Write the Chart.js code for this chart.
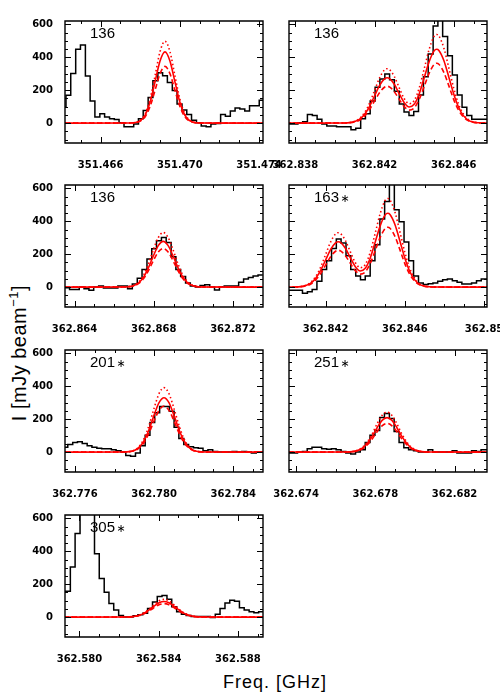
<!DOCTYPE html>
<html>
<head>
<meta charset="utf-8">
<script src="https://cdn.jsdelivr.net/npm/chart.js@4.4.1/dist/chart.umd.min.js"></script>
<style>
html, body { margin: 0; padding: 0; background: #fff; width: 500px; height: 700px; overflow: hidden; }
#wrap { position: relative; width: 500px; height: 700px; }
#wrap canvas { position: absolute; }
#ytitle { position: absolute; left: 19.5px; top: 353px; transform: translate(-50%, -50%) rotate(-90deg);
  font: 20px "Liberation Sans", Arial, sans-serif; line-height: 20px; letter-spacing: 0.5px; white-space: nowrap; color: #000; }
#ytitle sup { font-size: 13px; vertical-align: baseline; position: relative; top: -8px; }
#xtitle { position: absolute; left: 275px; top: 673px; transform: translateX(-50%);
  font: 18px "Liberation Sans", Arial, sans-serif; line-height: 18px; letter-spacing: 1px; white-space: nowrap; color: #000; }
</style>
</head>
<body>
<div id="wrap">
  <div id="ytitle">I [mJy beam<sup>−1</sup>]</div>
  <div id="xtitle">Freq. [GHz]</div>
</div>
<script>
// ---------------- DATA ----------------
const yTickValues = [0, 200, 400, 600];
const yTickLabels = ['0', '200', '400', '600'];
const panelLabels = ['136', '136', '136', '163\u2217', '201\u2217', '251\u2217', '305\u2217'];

// Panel 1 : 351.46 GHz, label 136
const p1XRange = [351.4642, 351.4742];
const p1XTicks = [351.466, 351.470, 351.474];
const p1XTickLabels = ['351.466', '351.470', '351.474'];
const p1Freq = [351.46401, 351.46425, 351.46449, 351.46474, 351.46498, 351.46523, 351.46547, 351.46571, 351.46596, 351.46620, 351.46645, 351.46669, 351.46693, 351.46718, 351.46742, 351.46767, 351.46791, 351.46815, 351.46840, 351.46864, 351.46889, 351.46913, 351.46937, 351.46962, 351.46986, 351.47011, 351.47035, 351.47059, 351.47084, 351.47108, 351.47133, 351.47157, 351.47181, 351.47206, 351.47230, 351.47255, 351.47279, 351.47303, 351.47328, 351.47352, 351.47377, 351.47401, 351.47425];
const p1Flux = [96, 169, 302, 449, 475, 286, 135, 37, 57, 37, 27, 22, 2, -22, -22, -6, 27, 76, 155, 257, 306, 288, 247, 198, 116, 80, 53, 18, 2, -18, -22, -6, -2, 53, 41, 73, 92, 86, 73, 106, 106, 139, 139];
const p1FitFreq = [351.4642, 351.4675, 351.46775, 351.468, 351.46825, 351.4685, 351.46875, 351.469, 351.46925, 351.4695, 351.46975, 351.47, 351.47025, 351.4705, 351.47075, 351.471, 351.4742];
const p1FitSolid = [0, 0.6, 3.3, 15, 49, 128, 252, 378, 433, 378, 252, 128, 49, 15, 3.3, 0.6, 0];
const p1FitDotted = [0, 0.6, 3.8, 17, 57, 147, 289, 435, 498, 435, 289, 147, 57, 17, 3.8, 0.6, 0];
const p1FitDashed = [0, 0.4, 2.6, 12, 39, 102, 200, 301, 345, 301, 200, 102, 39, 12, 2.6, 0.4, 0];

// Panel 2 : 362.84 GHz, label 136
const p2XRange = [362.83768, 362.84768];
const p2XTicks = [362.838, 362.842, 362.846];
const p2XTickLabels = ['362.838', '362.842', '362.846'];
const p2Freq = [362.83764, 362.83788, 362.83813, 362.83837, 362.83861, 362.83886, 362.83910, 362.83934, 362.83959, 362.83983, 362.84008, 362.84032, 362.84056, 362.84081, 362.84105, 362.84130, 362.84154, 362.84178, 362.84203, 362.84227, 362.84252, 362.84276, 362.84300, 362.84325, 362.84349, 362.84374, 362.84398, 362.84422, 362.84447, 362.84471, 362.84496, 362.84520, 362.84544, 362.84569, 362.84593, 362.84618, 362.84642, 362.84666, 362.84691, 362.84715, 362.84740, 362.84764, 362.84788];
const p2Flux = [-6, -6, 2, 8, 53, 47, 24, -6, -18, -18, -22, -22, -22, -41, -31, 27, 57, 135, 218, 269, 298, 263, 194, 116, 67, 47, 71, 171, 282, 420, 590, 700, 527, 410, 292, 171, 96, 47, 24, 24, 24, 24, 24];

// Two-component fit shared by panels 2 and 4
const twoLineFitFreq = [362.8375, 362.8405, 362.84075, 362.841, 362.84125, 362.8415, 362.84175, 362.842, 362.84225, 362.8425, 362.84264, 362.84275, 362.843, 362.84325, 362.8435, 362.84375, 362.844, 362.84425, 362.8445, 362.84475, 362.845, 362.84514, 362.84525, 362.8455, 362.84575, 362.846, 362.84625, 362.8465, 362.84675, 362.847, 362.84725, 362.8475, 362.8505];
const twoLineFitSolid = [0, 0.9, 3.0, 9.4, 24, 54, 102, 165, 228, 269, 276, 272, 236, 178, 124, 98, 114, 176, 272, 371, 438, 449, 442, 381, 281, 177, 95, 44, 17, 5.7, 1.7, 0.4, 0];
const twoLineFitDotted = [0, 1.1, 3.6, 11, 29, 65, 122, 198, 274, 323, 331, 326, 283, 214, 149, 118, 137, 211, 326, 445, 526, 539, 530, 457, 337, 212, 114, 53, 20, 7, 2, 0.5, 0];
const twoLineFitDashed = [0, 0.7, 2.4, 7.6, 19, 44, 83, 134, 185, 218, 224, 220, 191, 144, 100, 79, 92, 143, 220, 301, 355, 364, 358, 309, 228, 143, 77, 36, 14, 4.6, 1.4, 0.3, 0];

// Panel 3 : 362.868 GHz, label 136
const p3XRange = [362.86352, 362.87352];
const p3XTicks = [362.864, 362.868, 362.872];
const p3XTickLabels = ['362.864', '362.868', '362.872'];
const p3Freq = [362.86351, 362.86375, 362.86400, 362.86424, 362.86448, 362.86473, 362.86497, 362.86522, 362.86546, 362.86570, 362.86595, 362.86619, 362.86644, 362.86668, 362.86692, 362.86717, 362.86741, 362.86766, 362.86790, 362.86814, 362.86839, 362.86863, 362.86888, 362.86912, 362.86936, 362.86961, 362.86985, 362.87010, 362.87034, 362.87058, 362.87083, 362.87107, 362.87132, 362.87156, 362.87180, 362.87205, 362.87229, 362.87254, 362.87278, 362.87302, 362.87327, 362.87351];
const p3Flux = [-4, -14, -14, 0, -10, -19, 0, 6, -6, -6, -6, 6, 6, -10, 19, 54, 107, 171, 233, 282, 301, 272, 184, 107, 64, 25, 6, 0, 10, 14, 0, -17, 2, 6, 6, 6, 29, 50, 58, 68, 74, 74];
const p3FitFreq = [362.8635, 362.86648, 362.86673, 362.86698, 362.86723, 362.86748, 362.86773, 362.86798, 362.86823, 362.86848, 362.86873, 362.86898, 362.86923, 362.86948, 362.86973, 362.86998, 362.87023, 362.87048, 362.8736];
const p3FitSolid = [0, 0.6, 2.5, 8.6, 25, 59, 117, 189, 252, 278, 252, 189, 117, 59, 25, 8.6, 2.5, 0.6, 0];
const p3FitDotted = [0, 0.7, 3, 10, 30, 71, 140, 226, 301, 332, 301, 226, 140, 71, 30, 10, 3, 0.7, 0];
const p3FitDashed = [0, 0.5, 2.1, 7.3, 21, 50, 99, 160, 213, 235, 213, 160, 99, 50, 21, 7.3, 2.1, 0.5, 0];

// Panel 4 : 362.84 GHz, label 163*
const p4XRange = [362.84015, 362.85015];
const p4XTicks = [362.842, 362.846, 362.850];
const p4XTickLabels = ['362.842', '362.846', '362.85'];
const p4Freq = [362.84010, 362.84034, 362.84059, 362.84083, 362.84108, 362.84132, 362.84156, 362.84181, 362.84205, 362.84230, 362.84254, 362.84278, 362.84303, 362.84327, 362.84352, 362.84376, 362.84400, 362.84425, 362.84449, 362.84474, 362.84498, 362.84522, 362.84547, 362.84571, 362.84596, 362.84620, 362.84644, 362.84669, 362.84693, 362.84718, 362.84742, 362.84766, 362.84791, 362.84815, 362.84840, 362.84864, 362.84888, 362.84913, 362.84937, 362.84962, 362.84986, 362.85010, 362.85035];
const p4Flux = [-19, -19, -19, -37, -29, -14, 35, 107, 161, 235, 293, 268, 190, 107, 68, 45, 68, 161, 258, 414, 520, 680, 470, 398, 274, 161, 68, 25, 16, 21, 25, 35, 45, 50, 39, 29, 19, 19, 25, 39, 50, 50, 50];

// Panel 5 : 362.780 GHz, label 201*
const p5XRange = [362.7755, 362.7855];
const p5XTicks = [362.776, 362.780, 362.784];
const p5XTickLabels = ['362.776', '362.780', '362.784'];
const p5Freq = [362.77540, 362.77564, 362.77589, 362.77613, 362.77637, 362.77662, 362.77686, 362.77711, 362.77735, 362.77759, 362.77784, 362.77808, 362.77833, 362.77857, 362.77881, 362.77906, 362.77930, 362.77955, 362.77979, 362.78003, 362.78028, 362.78052, 362.78077, 362.78101, 362.78125, 362.78150, 362.78174, 362.78199, 362.78223, 362.78247, 362.78272, 362.78296, 362.78321, 362.78345, 362.78369, 362.78394, 362.78418, 362.78443, 362.78467, 362.78491, 362.78516, 362.78540, 362.78565];
const p5Flux = [29, 47, 59, 63, 53, 39, 29, 24, 20, 20, 14, 8, 0, -20, -25, -6, 39, 102, 180, 239, 278, 278, 249, 151, 82, 47, 33, 27, 24, 8, 14, 4, 0, 0, 0, 4, 0, 4, 0, -6, 0, 0, 0];
const p5FitFreq = [362.7755, 362.7785, 362.77875, 362.779, 362.77925, 362.7795, 362.77975, 362.78, 362.78025, 362.7805, 362.78075, 362.781, 362.78125, 362.7815, 362.78175, 362.782, 362.78225, 362.7825, 362.7855];
const p5FitSolid = [0, 0.7, 3, 10, 30, 71, 139, 225, 301, 331, 301, 225, 139, 71, 30, 10, 3, 0.7, 0];
const p5FitDotted = [0, 0.8, 3.5, 12, 35, 84, 165, 267, 356, 392, 356, 267, 165, 84, 35, 12, 3.5, 0.8, 0];
const p5FitDashed = [0, 0.6, 2.5, 8.7, 25, 60, 118, 191, 254, 280, 254, 191, 118, 60, 25, 8.7, 2.5, 0.6, 0];

// Panel 6 : 362.678 GHz, label 251*
const p6XRange = [362.67364, 362.68364];
const p6XTicks = [362.674, 362.678, 362.682];
const p6XTickLabels = ['362.674', '362.678', '362.682'];
const p6Freq = [362.67358, 362.67383, 362.67407, 362.67432, 362.67456, 362.67480, 362.67505, 362.67529, 362.67554, 362.67578, 362.67602, 362.67627, 362.67651, 362.67676, 362.67700, 362.67724, 362.67749, 362.67773, 362.67798, 362.67822, 362.67846, 362.67871, 362.67895, 362.67920, 362.67944, 362.67968, 362.67993, 362.68017, 362.68042, 362.68066, 362.68090, 362.68115, 362.68139, 362.68164, 362.68188, 362.68212, 362.68237, 362.68261, 362.68286, 362.68310, 362.68334, 362.68359, 362.68383];
const p6Flux = [-6, -6, 0, 4, 20, 29, 29, 20, 18, 20, 14, 4, -6, -12, 0, 14, 59, 102, 131, 210, 235, 204, 126, 59, 27, 14, 8, 0, 0, 14, 0, 0, 0, 0, 8, -6, -6, -6, 8, 4, 14, 14, 14];
const p6FitFreq = [362.6736, 362.67659, 362.67684, 362.67709, 362.67734, 362.67759, 362.67784, 362.67809, 362.67834, 362.67859, 362.67884, 362.67909, 362.67934, 362.67959, 362.67984, 362.68009, 362.68034, 362.68059, 362.6837];
const p6FitSolid = [0, 0.8, 3, 9, 24, 53, 96, 148, 193, 210, 193, 148, 96, 53, 24, 9, 3, 0.8, 0];
const p6FitDotted = [0, 1, 3.4, 11, 28, 61, 111, 172, 223, 243, 223, 172, 111, 61, 28, 11, 3.4, 1, 0];
const p6FitDashed = [0, 0.7, 2.5, 7.7, 20, 44, 80, 124, 160, 175, 160, 124, 80, 44, 20, 7.7, 2.5, 0.7, 0];

// Panel 7 : 362.584 GHz, label 305*
const p7XRange = [362.57927, 362.58927];
const p7XTicks = [362.580, 362.584, 362.588];
const p7XTickLabels = ['362.580', '362.584', '362.588'];
const p7Freq = [362.57905, 362.57929, 362.57954, 362.57978, 362.58003, 362.58027, 362.58051, 362.58076, 362.58100, 362.58125, 362.58149, 362.58173, 362.58198, 362.58222, 362.58247, 362.58271, 362.58295, 362.58320, 362.58344, 362.58369, 362.58393, 362.58417, 362.58442, 362.58466, 362.58491, 362.58515, 362.58539, 362.58564, 362.58588, 362.58613, 362.58637, 362.58661, 362.58686, 362.58710, 362.58735, 362.58759, 362.58783, 362.58808, 362.58832, 362.58857, 362.58881, 362.58905, 362.58930];
const p7Flux = [157, 157, 304, 508, 700, 750, 660, 386, 235, 151, 82, 43, 10, 0, 0, 8, 14, 24, 53, 92, 125, 131, 108, 63, 33, 18, 10, 4, 4, 4, 4, -2, 18, 53, 86, 102, 96, 57, 43, 33, 27, 33, 33];
const p7FitFreq = [362.5792, 362.58227, 362.58252, 362.58277, 362.58302, 362.58327, 362.58352, 362.58377, 362.58402, 362.58427, 362.58452, 362.58477, 362.58502, 362.58527, 362.58552, 362.58577, 362.58602, 362.58627, 362.5893];
const p7FitSolid = [0, 0.4, 1.3, 4.2, 11, 24, 43.5, 67, 87, 95, 87, 67, 43.5, 24, 11, 4.2, 1.3, 0.4, 0];
const p7FitDotted = [0, 0.4, 1.5, 4.8, 12.4, 27, 49, 76, 99, 108, 99, 76, 49, 27, 12.4, 4.8, 1.5, 0.4, 0];
const p7FitDashed = [0, 0.3, 1.1, 3.6, 9.4, 20.5, 37.6, 58, 75, 82, 75, 58, 37.6, 20.5, 9.4, 3.6, 1.1, 0.3, 0];

// ---------------- LAYOUT ----------------
const Y_RANGE = [-121, 621];
const COL_LEFT = [65, 289];
const ROW_TOP = [21, 185, 350, 515];
const PLOT_W = 198, PLOT_H = 122;
const PAD_L = 60, PAD_T = 12, PAD_R = 45, PAD_B = 36;

const zip = (xs, ys) => xs.map((x, i) => ({ x: x, y: ys[i] }));

const panelDefs = [
  { col: 0, row: 0, range: p1XRange, ticks: p1XTicks, tickLabels: p1XTickLabels, freq: p1Freq, flux: p1Flux, fitF: p1FitFreq, solid: p1FitSolid, dotted: p1FitDotted, dashed: p1FitDashed, label: panelLabels[0] },
  { col: 1, row: 0, range: p2XRange, ticks: p2XTicks, tickLabels: p2XTickLabels, freq: p2Freq, flux: p2Flux, fitF: twoLineFitFreq, solid: twoLineFitSolid, dotted: twoLineFitDotted, dashed: twoLineFitDashed, label: panelLabels[1] },
  { col: 0, row: 1, range: p3XRange, ticks: p3XTicks, tickLabels: p3XTickLabels, freq: p3Freq, flux: p3Flux, fitF: p3FitFreq, solid: p3FitSolid, dotted: p3FitDotted, dashed: p3FitDashed, label: panelLabels[2] },
  { col: 1, row: 1, range: p4XRange, ticks: p4XTicks, tickLabels: p4XTickLabels, freq: p4Freq, flux: p4Flux, fitF: twoLineFitFreq, solid: twoLineFitSolid, dotted: twoLineFitDotted, dashed: twoLineFitDashed, label: panelLabels[3] },
  { col: 0, row: 2, range: p5XRange, ticks: p5XTicks, tickLabels: p5XTickLabels, freq: p5Freq, flux: p5Flux, fitF: p5FitFreq, solid: p5FitSolid, dotted: p5FitDotted, dashed: p5FitDashed, label: panelLabels[4] },
  { col: 1, row: 2, range: p6XRange, ticks: p6XTicks, tickLabels: p6XTickLabels, freq: p6Freq, flux: p6Flux, fitF: p6FitFreq, solid: p6FitSolid, dotted: p6FitDotted, dashed: p6FitDashed, label: panelLabels[5] },
  { col: 0, row: 3, range: p7XRange, ticks: p7XTicks, tickLabels: p7XTickLabels, freq: p7Freq, flux: p7Flux, fitF: p7FitFreq, solid: p7FitSolid, dotted: p7FitDotted, dashed: p7FitDashed, label: panelLabels[6] }
];

const framePlugin = {
  id: 'frame',
  afterDatasetsDraw(chart, args, opts) {
    const ctx = chart.ctx, a = chart.chartArea, xs = chart.scales.x, ys = chart.scales.y;
    ctx.save();
    ctx.strokeStyle = '#000';
    ctx.lineWidth = 1.4;
    ctx.beginPath();
    ctx.rect(a.left, a.top, a.right - a.left, a.bottom - a.top);
    ctx.stroke();
    ctx.lineWidth = 1;
    ctx.beginPath();
    const seg = (x1, y1, x2, y2) => { ctx.moveTo(x1, y1); ctx.lineTo(x2, y2); };
    const xt = xs.ticks.map(t => t.value);
    const xStep = xt[1] - xt[0], xMinor = xStep / 4;
    for (let i = -40; i <= 40; i++) {
      const v = xt[0] + i * xMinor;
      if (v < xs.min - 1e-9 || v > xs.max + 1e-9) continue;
      const p = Math.round(xs.getPixelForValue(v)) + 0.5;
      const len = (i % 4 === 0) ? 6 : 3;
      seg(p, a.bottom, p, a.bottom - len);
      seg(p, a.top, p, a.top + len);
    }
    for (let i = -8; i <= 16; i++) {
      const v = i * 50;
      if (v < ys.min || v > ys.max) continue;
      const p = Math.round(ys.getPixelForValue(v)) + 0.5;
      const len = (i % 4 === 0) ? 6 : 3;
      seg(a.left, p, a.left + len, p);
      seg(a.right, p, a.right - len, p);
    }
    ctx.stroke();
    // panel label: number in sans, small centred asterisk after it
    ctx.fillStyle = '#000';
    ctx.textAlign = 'left';
    ctx.textBaseline = 'alphabetic';
    const lbl = opts.label;
    const star = lbl.endsWith('\u2217');
    const num = star ? lbl.slice(0, -1) : lbl;
    const lx = a.left + 25, ly = a.top + 16.5;
    ctx.font = '15px "Liberation Sans", "DejaVu Sans", sans-serif';
    ctx.fillText(num, lx, ly);
    if (star) {
      const w = ctx.measureText(num).width;
      ctx.font = '11px "DejaVu Sans", sans-serif';
      ctx.fillText('\u2217', lx + w + 1.5, ly + 0.5);
    }
    ctx.restore();
  }
};

const wrap = document.getElementById('wrap');
const tickFont = { family: 'DejaVu Sans', size: 10, weight: 'bold' };

panelDefs.forEach(pd => {
  const W = PAD_L + PLOT_W + PAD_R, H = PAD_T + PLOT_H + PAD_B;
  const cv = document.createElement('canvas');
  cv.width = W; cv.height = H;
  cv.style.width = W + 'px'; cv.style.height = H + 'px';
  cv.style.left = (COL_LEFT[pd.col] - PAD_L) + 'px';
  cv.style.top = (ROW_TOP[pd.row] - PAD_T) + 'px';
  wrap.appendChild(cv);

  const redBase = { borderColor: '#ff0000', borderWidth: 1.6, pointRadius: 0, fill: false, cubicInterpolationMode: 'monotone' };
  new Chart(cv, {
    type: 'line',
    data: {
      datasets: [
        Object.assign({ label: 'fit', data: zip(pd.fitF, pd.solid), order: 1 }, redBase),
        Object.assign({ label: 'fit high', data: zip(pd.fitF, pd.dotted), order: 2, borderDash: [1.5, 2.5] }, redBase),
        Object.assign({ label: 'fit low', data: zip(pd.fitF, pd.dashed), order: 3, borderDash: [5, 3] }, redBase),
        { label: 'spectrum', data: zip(pd.freq, pd.flux), order: 4, stepped: 'before', borderColor: '#000', borderWidth: 1.5, pointRadius: 0, fill: false, borderJoinStyle: 'miter' }
      ]
    },
    options: {
      responsive: false,
      animation: false,
      devicePixelRatio: 1,
      events: [],
      layout: { padding: { left: 0, top: PAD_T, right: PAD_R, bottom: 0 } },
      plugins: { legend: { display: false }, tooltip: { enabled: false }, frame: { label: pd.label } },
      scales: {
        x: {
          type: 'linear', min: pd.range[0], max: pd.range[1],
          grid: { display: false }, border: { display: false },
          afterBuildTicks: s => { s.ticks = pd.ticks.map(v => ({ value: v })); },
          afterFit: s => { s.height = PAD_B; },
          ticks: { autoSkip: false, maxRotation: 0, minRotation: 0, padding: 8, color: '#000', font: tickFont,
                   callback: (v, i) => pd.tickLabels[i] }
        },
        y: {
          type: 'linear', min: Y_RANGE[0], max: Y_RANGE[1],
          grid: { display: false }, border: { display: false },
          afterBuildTicks: s => { s.ticks = yTickValues.map(v => ({ value: v })); },
          afterFit: s => { s.width = PAD_L; },
          ticks: { padding: 4, color: '#000', font: tickFont,
                   callback: (v, i) => pd.col === 0 ? yTickLabels[i] : '' }
        }
      }
    },
    plugins: [framePlugin]
  });
});
</script>
</body>
</html>
